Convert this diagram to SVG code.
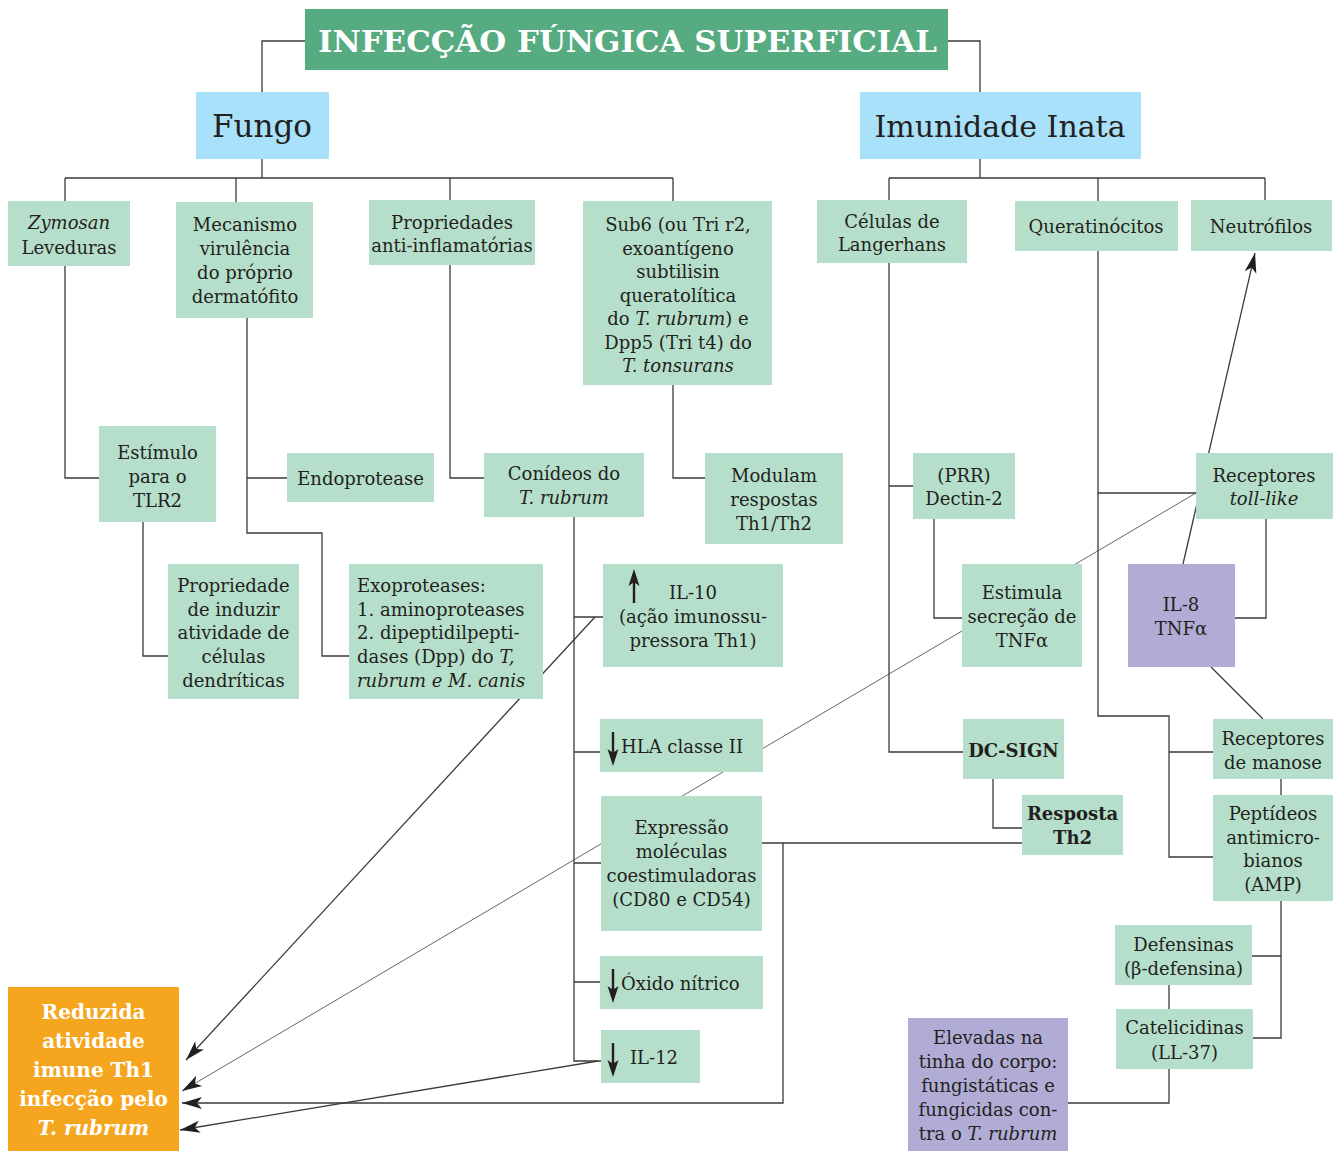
<svg xmlns="http://www.w3.org/2000/svg" width="1338" height="1152" viewBox="0 0 1338 1152">
<style>
.bg{fill:#ffffff}
.g{fill:#b6dfcb}
.b{fill:#a8e1f9}
.p{fill:#b1acd5}
.o{fill:#f5a61e}
.hd{fill:#56ab80}
.t{font-family:"DejaVu Serif",serif;font-size:18px;fill:#231f20;text-anchor:middle}
.l{text-anchor:start}
.bd{font-weight:bold}
.big{font-size:31px}
.w{fill:#ffffff;font-weight:bold;font-size:20px}
.i{font-style:italic}
.ln{fill:none;stroke:#3a3a3a;stroke-width:1.3}
.thin{fill:none;stroke:#555;stroke-width:0.9}
.ar{fill:#231f20}
</style>
<defs>
<marker id="ah" viewBox="-21 -7 22 14" markerWidth="22" markerHeight="14" refX="0" refY="0" orient="auto" markerUnits="userSpaceOnUse">
<path d="M0,0 L-20,-6 L-15,0 L-20,6 Z" fill="#231f20"/>
</marker>
</defs>
<rect class="bg" x="0" y="0" width="1338" height="1152"/>
<g id="connectors">
<path class="ln" d="M305,41 H262 V92"/>
<path class="ln" d="M948,41 H980 V92"/>
<path class="ln" d="M262,159 V178 M65,178 H673 M65,178 V201 M236,178 V202 M450,178 V200 M673,178 V201"/>
<path class="ln" d="M980,159 V178 M889,178 H1265 M889,178 V200 M1098,178 V201 M1265,178 V200"/>
<path class="ln" d="M65,266 V478 H99"/>
<path class="ln" d="M143,522 V656 H168"/>
<path class="ln" d="M247,318 V533 H322 V656 H349 M247,478 H287"/>
<path class="ln" d="M450,265 V478 H484"/>
<path class="ln" d="M673,385 V478 H705"/>
<path class="ln" d="M574,517 V1061 H601 M574,617 H603 M574,752 H600 M574,863 H601 M574,982 H600"/>
<path class="ln" d="M762,843 H1022"/>
<path class="ln" d="M783,843 V1103 H182" marker-end="url(#ah)"/>
<path class="ln" d="M595,617 L186,1060" marker-end="url(#ah)"/>
<path class="thin" d="M1196,493 L182,1091" marker-end="url(#ah)"/>
<path class="ln" d="M598,1061 L180,1130" marker-end="url(#ah)"/>
<path class="ln" d="M889,263 V752 H963 M889,486 H913"/>
<path class="ln" d="M934,519 V618 H962"/>
<path class="ln" d="M993,779 V828 H1022"/>
<path class="ln" d="M1098,251 V716 H1169 V857 H1213 M1098,493 H1196 M1169,752 H1213"/>
<path class="ln" d="M1266,519 V618 H1235"/>
<path class="ln" d="M1211,667 L1263,719"/>
<path class="ln" d="M1183,564 L1255,253" marker-end="url(#ah)"/>
<path class="ln" d="M1281,779 V795"/>
<path class="ln" d="M1281,901 V1038 H1253 M1281,956 H1252"/>
<path class="ln" d="M1169,985 V1009"/>
<path class="ln" d="M1169,1069 V1103 H1068"/>
</g>
<g id="title">
<rect class="hd" x="305" y="9" width="643" height="61"/>
<text class="t bd" x="318" y="52" style="text-anchor:start;font-size:30px;fill:#ffffff" textLength="619" lengthAdjust="spacingAndGlyphs">INFECÇÃO FÚNGICA SUPERFICIAL</text>
</g>
<g id="fungo">
<rect class="b" x="196" y="92" width="133" height="67"/>
<text class="t big" x="262" y="137">Fungo</text>
</g>
<g id="imunidade">
<rect class="b" x="860" y="92" width="281" height="67"/>
<text class="t" x="1000" y="137" style="font-size:30px">Imunidade Inata</text>
</g>
<g id="zymosan">
<rect class="g" x="8" y="201" width="122" height="65"/>
<text class="t" x="69" y="229"><tspan class="i">Zymosan</tspan></text>
<text class="t" x="69" y="254">Leveduras</text>
</g>
<g id="mecanismo">
<rect class="g" x="176" y="202" width="137" height="116"/>
<text class="t" x="245" y="231">Mecanismo</text>
<text class="t" x="245" y="255">virulência</text>
<text class="t" x="245" y="279">do próprio</text>
<text class="t" x="245" y="303">dermatófito</text>
</g>
<g id="propriedades">
<rect class="g" x="369" y="200" width="166" height="65"/>
<text class="t" x="452" y="229">Propriedades</text>
<text class="t" x="452" y="252">anti-inflamatórias</text>
</g>
<g id="sub6">
<rect class="g" x="583" y="201" width="189" height="184"/>
<text class="t" x="678" y="231">Sub6 (ou Tri r2,</text>
<text class="t" x="678" y="254.5">exoantígeno</text>
<text class="t" x="678" y="278">subtilisin</text>
<text class="t" x="678" y="301.5">queratolítica</text>
<text class="t" x="678" y="325">do <tspan class="i">T. rubrum</tspan>) e</text>
<text class="t" x="678" y="348.5">Dpp5 (Tri t4) do</text>
<text class="t" x="678" y="372"><tspan class="i">T. tonsurans</tspan></text>
</g>
<g id="celulas">
<rect class="g" x="817" y="200" width="150" height="63"/>
<text class="t" x="892" y="228">Células de</text>
<text class="t" x="892" y="251">Langerhans</text>
</g>
<g id="queratinocitos">
<rect class="g" x="1015" y="201" width="163" height="50"/>
<text class="t" x="1096" y="233">Queratinócitos</text>
</g>
<g id="neutrofilos">
<rect class="g" x="1191" y="200" width="141" height="51"/>
<text class="t" x="1261" y="233">Neutrófilos</text>
</g>
<g id="estimulo">
<rect class="g" x="99" y="426" width="117" height="96"/>
<text class="t" x="157.5" y="459">Estímulo</text>
<text class="t" x="157.5" y="483">para o</text>
<text class="t" x="157.5" y="507">TLR2</text>
</g>
<g id="endoprotease">
<rect class="g" x="287" y="453" width="147" height="49"/>
<text class="t" x="360.5" y="485">Endoprotease</text>
</g>
<g id="conideos">
<rect class="g" x="484" y="453" width="160" height="64"/>
<text class="t" x="564" y="480">Conídeos do</text>
<text class="t" x="564" y="503.5"><tspan class="i">T. rubrum</tspan></text>
</g>
<g id="modulam">
<rect class="g" x="705" y="453" width="138" height="91"/>
<text class="t" x="774" y="482">Modulam</text>
<text class="t" x="774" y="506">respostas</text>
<text class="t" x="774" y="529.5">Th1/Th2</text>
</g>
<g id="dectin">
<rect class="g" x="913" y="453" width="102" height="66"/>
<text class="t" x="964" y="482">(PRR)</text>
<text class="t" x="964" y="504.5">Dectin-2</text>
</g>
<g id="toll">
<rect class="g" x="1196" y="453" width="137" height="66"/>
<text class="t" x="1264" y="482">Receptores</text>
<text class="t" x="1264" y="504.5"><tspan class="i">toll-like</tspan></text>
</g>
<g id="propriedade">
<rect class="g" x="168" y="564" width="131" height="135"/>
<text class="t" x="233.5" y="592">Propriedade</text>
<text class="t" x="233.5" y="615.5">de induzir</text>
<text class="t" x="233.5" y="639">atividade de</text>
<text class="t" x="233.5" y="662.5">células</text>
<text class="t" x="233.5" y="686.5">dendríticas</text>
</g>
<g id="exoproteases">
<rect class="g" x="349" y="564" width="194" height="135"/>
<text class="t l" x="357" y="592">Exoproteases:</text>
<text class="t l" x="357" y="615.5">1. aminoproteases</text>
<text class="t l" x="357" y="639">2. dipeptidilpepti-</text>
<text class="t l" x="357" y="662.5">dases (Dpp) do <tspan class="i">T,</tspan></text>
<text class="t l" x="357" y="686.5"><tspan class="i">rubrum e M. canis</tspan></text>
</g>
<g id="il10">
<rect class="g" x="603" y="564" width="180" height="103"/>
<path class="ar" d="M634,569 L639.5,586 L635.2,583 L635.2,603 L632.8,603 L632.8,583 L628.5,586 Z"/>
<text class="t" x="693" y="599">IL-10</text>
<text class="t" x="693" y="623">(ação imunossu-</text>
<text class="t" x="693" y="647">pressora Th1)</text>
</g>
<g id="estimula">
<rect class="g" x="962" y="564" width="120" height="103"/>
<text class="t" x="1022" y="599">Estimula</text>
<text class="t" x="1022" y="623">secreção de</text>
<text class="t" x="1022" y="647">TNFα</text>
</g>
<g id="il8">
<rect class="p" x="1128" y="564" width="107" height="103"/>
<text class="t" x="1181" y="611">IL-8</text>
<text class="t" x="1181" y="634.5">TNFα</text>
</g>
<g id="hla">
<rect class="g" x="600" y="719" width="163" height="53"/>
<path class="ar" d="M613,766 L618.5,749 L614.2,752 L614.2,732 L611.8,732 L611.8,752 L607.5,749 Z"/>
<text class="t l" x="621" y="753">HLA classe II</text>
</g>
<g id="dcsign">
<rect class="g" x="963" y="719" width="101" height="60"/>
<text class="t bd" x="1013.5" y="757">DC-SIGN</text>
</g>
<g id="manose">
<rect class="g" x="1213" y="719" width="120" height="60"/>
<text class="t" x="1273" y="745">Receptores</text>
<text class="t" x="1273" y="768.5">de manose</text>
</g>
<g id="expressao">
<rect class="g" x="601" y="796" width="161" height="135"/>
<text class="t" x="681.5" y="834">Expressão</text>
<text class="t" x="681.5" y="858">moléculas</text>
<text class="t" x="681.5" y="882">coestimuladoras</text>
<text class="t" x="681.5" y="906">(CD80 e CD54)</text>
</g>
<g id="resposta">
<rect class="g" x="1022" y="795" width="101" height="60"/>
<text class="t bd" x="1072.5" y="820">Resposta</text>
<text class="t bd" x="1072.5" y="843.5">Th2</text>
</g>
<g id="peptideos">
<rect class="g" x="1213" y="795" width="120" height="106"/>
<text class="t" x="1273" y="819.5">Peptídeos</text>
<text class="t" x="1273" y="843.5">antimicro-</text>
<text class="t" x="1273" y="867">bianos</text>
<text class="t" x="1273" y="891">(AMP)</text>
</g>
<g id="defensinas">
<rect class="g" x="1115" y="925" width="137" height="60"/>
<text class="t" x="1183.5" y="951">Defensinas</text>
<text class="t" x="1183.5" y="975">(β-defensina)</text>
</g>
<g id="oxido">
<rect class="g" x="600" y="956" width="163" height="53"/>
<path class="ar" d="M613,1003 L618.5,986 L614.2,989 L614.2,969 L611.8,969 L611.8,989 L607.5,986 Z"/>
<text class="t l" x="621" y="990">Óxido nítrico</text>
</g>
<g id="catelicidinas">
<rect class="g" x="1116" y="1009" width="137" height="60"/>
<text class="t" x="1184.5" y="1034">Catelicidinas</text>
<text class="t" x="1184.5" y="1058.5">(LL-37)</text>
</g>
<g id="il12">
<rect class="g" x="601" y="1030" width="99" height="53"/>
<path class="ar" d="M613,1077 L618.5,1060 L614.2,1063 L614.2,1043 L611.8,1043 L611.8,1063 L607.5,1060 Z"/>
<text class="t l" x="630" y="1064">IL-12</text>
</g>
<g id="elevadas">
<rect class="p" x="908" y="1018" width="160" height="133"/>
<text class="t" x="988" y="1044">Elevadas na</text>
<text class="t" x="988" y="1068">tinha do corpo:</text>
<text class="t" x="988" y="1092">fungistáticas e</text>
<text class="t" x="988" y="1116">fungicidas con-</text>
<text class="t" x="988" y="1139.5">tra o <tspan class="i">T. rubrum</tspan></text>
</g>
<g id="reduzida">
<rect class="o" x="8" y="987" width="171" height="164"/>
<text class="t w" x="93.5" y="1018.5">Reduzida</text>
<text class="t w" x="93.5" y="1047.5">atividade</text>
<text class="t w" x="93.5" y="1076.5">imune Th1</text>
<text class="t w" x="93.5" y="1106">infecção pelo</text>
<text class="t w" x="93.5" y="1135"><tspan class="i">T. rubrum</tspan></text>
</g>
</svg>
